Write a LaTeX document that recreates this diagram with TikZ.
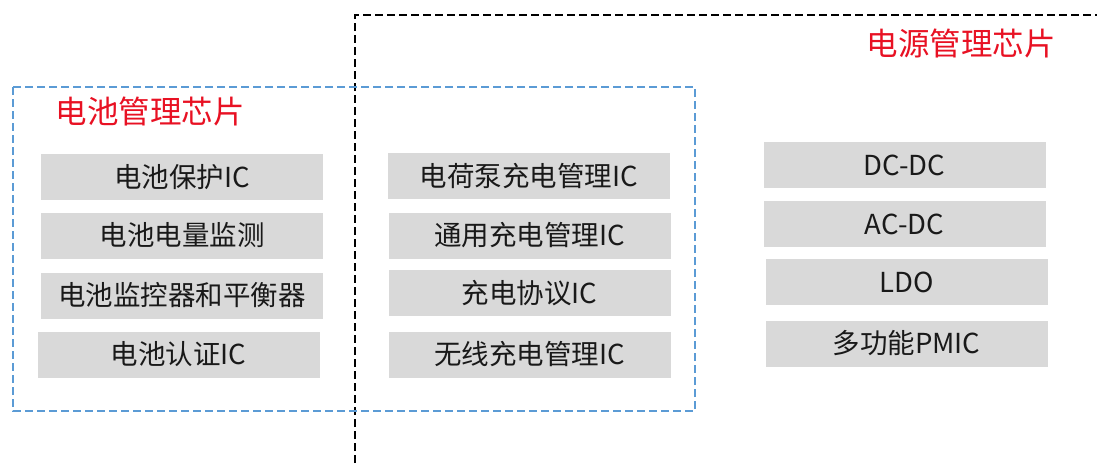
\documentclass[tikz,border=0pt]{standalone}
\usepackage{fontspec}
\setmainfont{Noto Sans CJK SC}
\definecolor{chipgray}{RGB}{217,217,217}
\definecolor{chipred}{RGB}{232,17,35}
\definecolor{chipblue}{RGB}{91,155,213}
\definecolor{chiptext}{RGB}{25,25,25}
\tikzset{
	chip/.style={fill=chipgray,minimum width=282pt,minimum height=46pt,inner sep=0pt,text=chiptext,font=\fontsize{27.5}{32}\selectfont},
	grouptitle/.style={text=chipred,inner sep=0pt,font=\fontsize{31.5}{36}\selectfont},
	blueframe/.style={draw=chipblue,line width=1.5pt,dash pattern=on 8pt off 4pt},
	blackframe/.style={draw=black,line width=1.5pt,dash pattern=on 8pt off 4pt}
}
\begin{document}
\begin{tikzpicture}[x=1pt,y=-1pt]
				\useasboundingbox(0,0)rectangle(1097,463);
				\draw[blackframe](355,463)--(355,15)--(1097,15);
				\draw[blueframe](13,87)rectangle(695,411);
				\node[grouptitle](battitle)at(150,111){电池管理芯片};
				\node[grouptitle](powtitle)at(961,43){电源管理芯片};
				\node[chip](bat1)at(182,177){电池保护IC};
				\node[chip](bat2)at(182,235.5){电池电量监测};
				\node[chip](bat3)at(182,295.5){电池监控器和平衡器};
				\node[chip](bat4)at(178.5,354.5){电池认证IC};
				\node[chip](chg1)at(529,176){电荷泵充电管理IC};
				\node[chip](chg2)at(529.5,235.5){通用充电管理IC};
				\node[chip](chg3)at(529.5,293){充电协议IC};
				\node[chip](chg4)at(529.5,354.5){无线充电管理IC};
				\node[chip](pow1)at(904.5,165){DC-DC};
				\node[chip](pow2)at(904.5,224){AC-DC};
				\node[chip](pow3)at(906.5,282){LDO};
				\node[chip](pow4)at(906.5,343.5){多功能PMIC};
			\end{tikzpicture}
\end{document}
